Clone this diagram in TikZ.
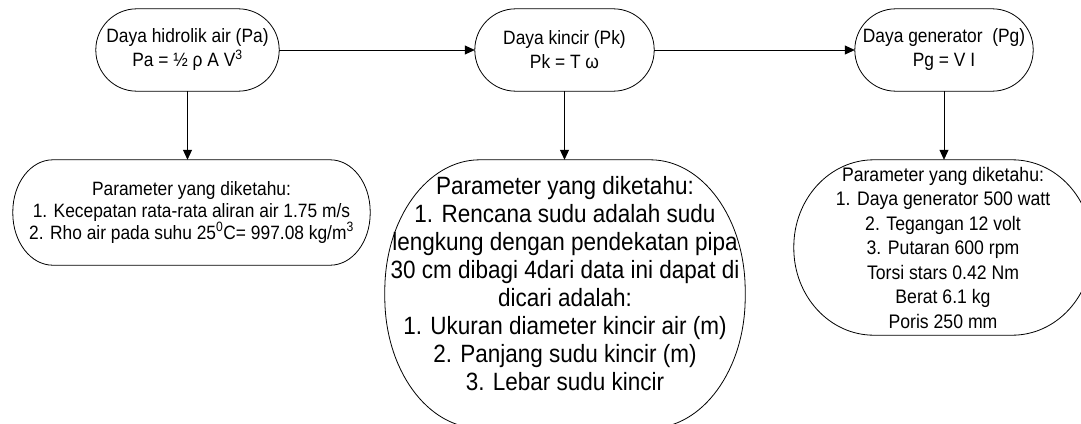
\documentclass[tikz,border=0pt]{standalone}
\usepackage{fontspec}
\setmainfont{Liberation Sans}[FakeStretch=0.9]
\usetikzlibrary{arrows.meta}

\tikzset{
    termline/.style={draw=black, line width=0.8pt},
    term/.style={inner sep=0pt, align=center, text=black},
    flow/.style={line width=0.8pt, -{Triangle[length=10pt, width=9pt]}},
}
% rounded box drawn round a node: node, x radius, y radius
\newcommand{\termshape}[3]{%
    \draw[termline] ([xshift=#2]#1.north west) -- ([xshift=-#2]#1.north east)
        arc[start angle=90, end angle=0, x radius=#2, y radius=#3] -- ([yshift=#3]#1.south east)
        arc[start angle=0, end angle=-90, x radius=#2, y radius=#3] -- ([xshift=#2]#1.south west)
        arc[start angle=270, end angle=180, x radius=#2, y radius=#3] -- ([yshift=-#3]#1.north west)
        arc[start angle=180, end angle=90, x radius=#2, y radius=#3] -- cycle;}

\begin{document}
\begin{tikzpicture}[x=1pt, y=1pt]
\clip (0,0) rectangle (1081,-423);

% daya
\node [term, minimum width=183, minimum height=82, font=\fontsize{19.3}{24}\selectfont] (pa) at (187.5,-50)
    {Daya hidrolik air (Pa)\\Pa = ½ ρ A V\textsuperscript{3}};
\node [term, minimum width=179, minimum height=82, font=\fontsize{19.3}{24}\selectfont] (pk) at (564.5,-50)
    {Daya kincir (Pk)\\Pk = T ω};
\node [term, minimum width=178, minimum height=82, font=\fontsize{19.3}{24}\selectfont] (pg) at (944,-50)
    {Daya generator~ (Pg)\\Pg = V I};

% parameter
\node [term, minimum width=357, minimum height=105, font=\fontsize{19.3}{22}\selectfont] (parA) at (191.5,-212.5)
    {Parameter yang diketahu:\\
     1. Kecepatan rata-rata aliran air 1.75 m/s\\
     2. Rho air pada suhu 25\textsuperscript{0}C= 997.08 kg/m\textsuperscript{3}};
\node [term, minimum width=360, minimum height=268, font=\fontsize{25}{28}\selectfont] (parK) at (565,-294)
    {Parameter yang diketahu:\\
     1. Rencana sudu adalah sudu\\
     lengkung dengan pendekatan pipa\\
     30 cm dibagi 4dari data ini dapat di\\
     dicari adalah:\\
     1. Ukuran diameter kincir air (m)\\
     2. Panjang sudu kincir (m)\\
     3. Lebar sudu kincir\rule[-21pt]{0pt}{0pt}};
\node [term, minimum width=298, minimum height=175, font=\fontsize{19.6}{24.5}\selectfont] (parG) at (943,-247.5)
    {Parameter yang diketahu:\\
     1. Daya generator 500 watt\\
     2. Tegangan 12 volt\\
     3. Putaran 600 rpm\\
     Torsi stars 0.42 Nm\\
     Berat 6.1 kg\\
     Poris 250 mm};

\termshape{pa}{41}{41}
\termshape{pk}{41}{41}
\termshape{pg}{41}{41}
\termshape{parA}{40}{52}
\termshape{parK}{95}{131}
\termshape{parG}{80}{87}

\draw[flow] (pa) -- (pk);
\draw[flow] (pk) -- (pg);
\draw[flow] (pa.south) -- (pa.south |- parA.north);
\draw[flow] (pk.south) -- (pk.south |- parK.north);
\draw[flow] (pg.south) -- (pg.south |- parG.north);
\end{tikzpicture}
\end{document}
